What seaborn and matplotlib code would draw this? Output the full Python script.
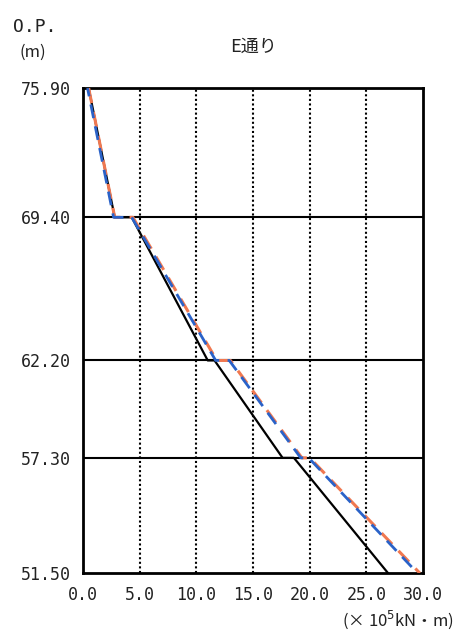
import matplotlib
matplotlib.use("Agg")
import matplotlib.pyplot as plt
import pandas as pd
import seaborn as sns

# O.P. levels (m)
levels = [75.90, 69.40, 62.20, 57.30, 51.50]
xticks = [0, 5, 10, 15, 20, 25, 30]

# moment distribution (x10^5 kN*m) vs O.P.
black_x = [0.5, 2.8, 4.3, 11.0, 11.6, 17.6, 18.6, 26.9]
black_y = [75.9, 69.4, 69.4, 62.2, 62.2, 57.3, 57.3, 51.5]
orange_x = [0.5, 2.8, 4.4, 11.8, 13.0, 19.3, 20.0, 29.7]
orange_y = [75.9, 69.4, 69.4, 62.2, 62.2, 57.3, 57.3, 51.5]
blue_x = [0.4, 2.7, 4.3, 11.7, 12.9, 19.2, 19.9, 29.5]
blue_y = [75.9, 69.4, 69.4, 62.2, 62.2, 57.3, 57.3, 51.5]

sns.set_style("white")
plt.rcParams['font.family'] = ['DejaVu Sans Mono', 'Noto Sans CJK JP']

fig = plt.figure(figsize=(4.61, 6.34), dpi=100)
ax = fig.add_axes([0.180, 0.096, 0.738, 0.765])

# grid
for lv in levels[1:-1]:
    ax.axhline(lv, color='black', lw=1.5, zorder=1)
for xv in xticks[1:-1]:
    ax.axvline(xv, color='black', lw=1.5, ls=(0, (1, 1.2)), zorder=1)

df_b = pd.DataFrame({"x": black_x, "y": black_y})
df_o = pd.DataFrame({"x": orange_x, "y": orange_y})
df_l = pd.DataFrame({"x": blue_x, "y": blue_y})
sns.lineplot(data=df_b, x="x", y="y", sort=False, estimator=None, color='black', lw=1.6, ax=ax, zorder=3)
sns.lineplot(data=df_o, x="x", y="y", sort=False, estimator=None, color='#f07850', lw=2.2,
             ax=ax, zorder=4, linestyle=(0, (5, 3)))
sns.lineplot(data=df_l, x="x", y="y", sort=False, estimator=None, color='#2a62c8', lw=2.0,
             ax=ax, zorder=5, linestyle=(2, (5, 3)))

ax.set_xlim(0, 30)
ax.set_ylim(51.5, 75.9)
ax.set_xticks(xticks)
ax.set_xticklabels(["%.1f" % v for v in xticks])
ax.set_yticks(levels)
ax.set_yticklabels(["%.2f" % v for v in levels])
ax.tick_params(length=0, labelsize=12, colors='#222222')
ax.tick_params(axis='y', pad=9)
ax.tick_params(axis='x', pad=9)
ax.set_xlabel("")
ax.set_ylabel("")
for s in ax.spines.values():
    s.set_color('black')
    s.set_linewidth(2)

fig.text(0.075, 0.958, "O.P.", fontsize=13, ha='center', va='center', color='#222222')
fig.text(0.072, 0.918, "(m)", fontsize=12, ha='center', va='center', color='#222222',
         family=['Noto Sans CJK JP'])
ax.set_title("E通り", fontsize=13, pad=26, family=['Noto Sans CJK JP'], color='#222222')
fig.text(0.985, 0.022, "(× 10$^5$kN・m)", fontsize=12, ha='right', va='center', color='#222222',
         family=['Noto Sans CJK JP', 'DejaVu Sans'])

fig.savefig("out.png", dpi=100)
